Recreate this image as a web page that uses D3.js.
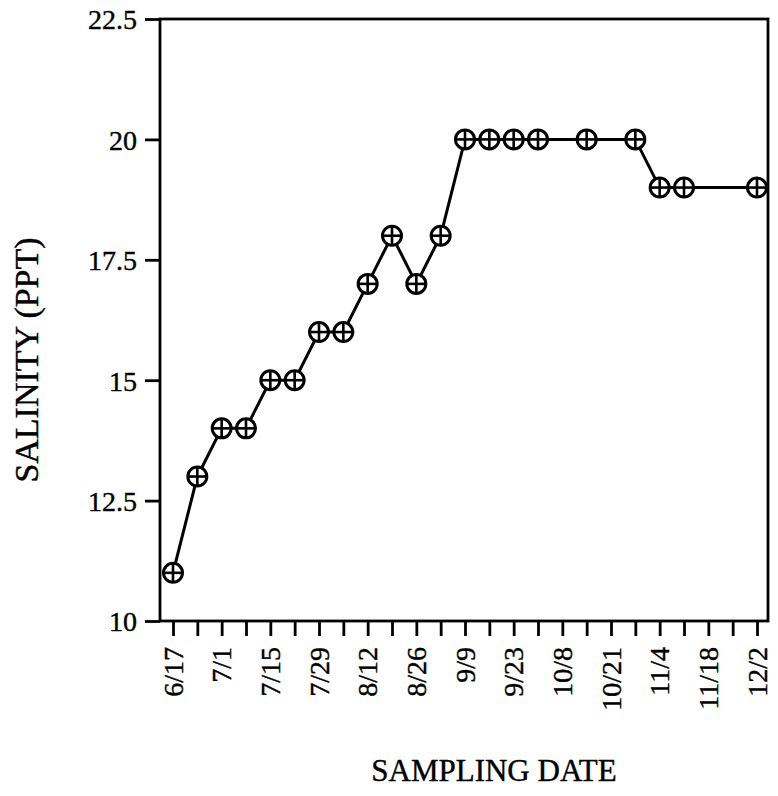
<!DOCTYPE html>
<html>
<head>
<meta charset="utf-8">
<script src="https://cdn.jsdelivr.net/npm/d3@7"></script>
<style>
  body { margin: 0; background: #fff; }
  text { font-family: "Liberation Serif", "DejaVu Serif", serif; fill: #000; stroke: #000; stroke-width: 0.4px; }
</style>
</head>
<body>
<svg width="778" height="796"></svg>
<script>
// week number counted from 6/17, one tick per week
var tickLabels = ["6/17", "7/1", "7/15", "7/29", "8/12", "8/26", "9/9", "9/23", "10/8", "10/21", "11/4", "11/18", "12/2"];
var tickWeeks = [0, 2, 4, 6, 8, 10, 12, 14, 16, 18, 20, 22, 24];
var sampleWeeks = [0, 1, 2, 3, 4, 5, 6, 7, 8, 9, 10, 11, 12, 13, 14, 15, 17, 19, 20, 21, 24];
var salinity = [11, 13, 14, 14, 15, 15, 16, 16, 17, 18, 17, 18, 20, 20, 20, 20, 20, 20, 19, 19, 19];
var yTicks = [10, 12.5, 15, 17.5, 20, 22.5];

var svg = d3.select("svg");

var plotLeft = 160, plotRight = 768, plotTop = 19, plotBottom = 621;

var x = d3.scaleLinear().domain([0, 24]).range([173, 757]);
var y = d3.scaleLinear().domain([10, 22.5]).range([plotBottom, plotTop]);

// frame
svg.append("rect")
    .attr("x", plotLeft).attr("y", plotTop)
    .attr("width", plotRight - plotLeft).attr("height", plotBottom - plotTop)
    .attr("fill", "none").attr("stroke", "#000").attr("stroke-width", 2.8);

// y axis
var yAxis = svg.append("g")
    .attr("transform", "translate(" + plotLeft + ",0)")
    .call(d3.axisLeft(y).tickValues(yTicks).tickSize(15).tickPadding(8)
      .tickFormat(function(d) { return d; }));
yAxis.select(".domain").remove();
yAxis.selectAll("line").attr("stroke", "#000").attr("stroke-width", 2.8);
yAxis.selectAll("text").attr("font-size", 28).attr("font-family", "Liberation Serif").attr("dy", "0.35em");

// x axis, minor weekly ticks
var xAxis = svg.append("g")
    .attr("transform", "translate(0," + plotBottom + ")")
    .call(d3.axisBottom(x).tickValues(d3.range(0, 25)).tickSize(15).tickFormat(""));
xAxis.select(".domain").remove();
xAxis.selectAll("line").attr("stroke", "#000").attr("stroke-width", 2.8);

svg.append("g").selectAll("text")
    .data(tickWeeks)
  .enter().append("text")
    .attr("transform", function(d) { return "translate(" + x(d) + ",647) rotate(-90)"; })
    .attr("text-anchor", "end")
    .attr("dy", "0.35em")
    .attr("font-size", 28)
    .text(function(d, i) { return tickLabels[i]; });

// line
var points = sampleWeeks.map(function(w, i) { return [w, salinity[i]]; });
svg.append("path")
    .datum(points)
    .attr("fill", "none")
    .attr("stroke", "#000")
    .attr("stroke-width", 3)
    .attr("d", d3.line().x(function(d) { return x(d[0]); }).y(function(d) { return y(d[1]); }));

// circled-plus markers
var r = 9.5;
var marker = svg.append("g").selectAll("g")
    .data(points)
  .enter().append("g")
    .attr("transform", function(d) { return "translate(" + x(d[0]) + "," + y(d[1]) + ")"; });
marker.append("circle")
    .attr("r", r).attr("fill", "#fff").attr("stroke", "#000").attr("stroke-width", 3);
marker.append("line")
    .attr("x1", -r).attr("x2", r).attr("stroke", "#000").attr("stroke-width", 2.6);
marker.append("line")
    .attr("y1", -r).attr("y2", r).attr("stroke", "#000").attr("stroke-width", 2.6);

// titles
svg.append("text")
    .attr("transform", "translate(38,360) rotate(-90)")
    .attr("text-anchor", "middle")
    .attr("font-size", 34)
    .text("SALINITY (PPT)");

svg.append("text")
    .attr("x", 494).attr("y", 781)
    .attr("text-anchor", "middle")
    .attr("font-size", 31)
    .text("SAMPLING DATE");
</script>
</body>
</html>
